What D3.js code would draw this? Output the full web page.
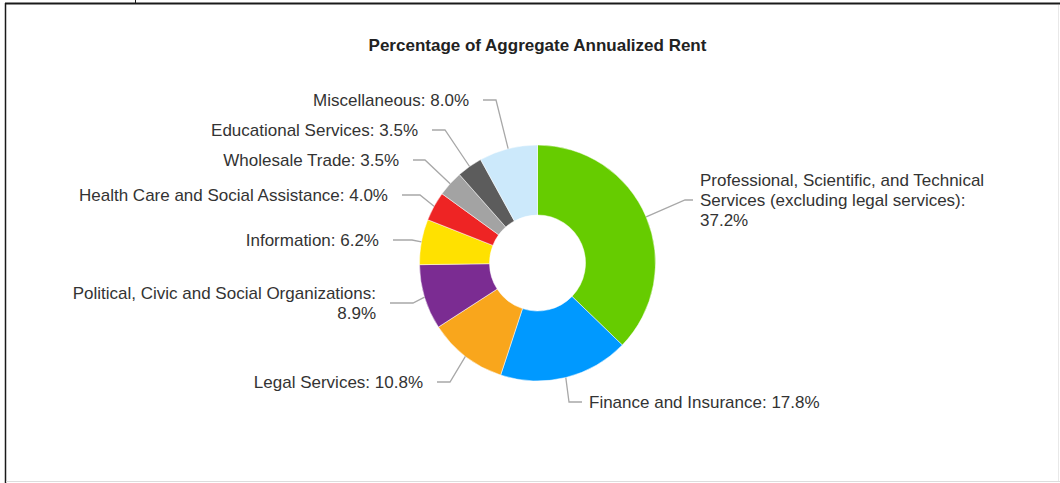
<!DOCTYPE html>
<html>
<head>
<meta charset="utf-8">
<script src="https://cdn.jsdelivr.net/npm/d3@7"></script>
<style>
  html, body { margin: 0; padding: 0; background: #fff; }
  svg { display: block; }
</style>
</head>
<body>
<svg id="chart" width="1060" height="483"></svg>
<script>
// ---- Data ----
const title = "Percentage of Aggregate Annualized Rent";
const categories = [
  "Professional, Scientific, and Technical Services (excluding legal services)",
  "Finance and Insurance",
  "Legal Services",
  "Political, Civic and Social Organizations",
  "Information",
  "Health Care and Social Assistance",
  "Wholesale Trade",
  "Educational Services",
  "Miscellaneous"
];
const values = [37.2, 17.8, 10.8, 8.9, 6.2, 4.0, 3.5, 3.5, 8.0];
const labelLines = [
  ["Professional, Scientific, and Technical", "Services (excluding legal services):", "37.2%"],
  ["Finance and Insurance: 17.8%"],
  ["Legal Services: 10.8%"],
  ["Political, Civic and Social Organizations:", "8.9%"],
  ["Information: 6.2%"],
  ["Health Care and Social Assistance: 4.0%"],
  ["Wholesale Trade: 3.5%"],
  ["Educational Services: 3.5%"],
  ["Miscellaneous: 8.0%"]
];

// ---- Styles / layout ----
const colors = ["#66cc00", "#0099ff", "#f9a61c", "#7b2c92", "#ffe100", "#ee2424", "#a3a3a3", "#5c5c5c", "#cce9fb"];
// label layout: leader y, elbow x, leader end x, side
const labelLayout = [
  {ly: 200, ex: 685, tx: 693, side: "right"},
  {ly: 402, ex: 569, tx: 582, side: "right"},
  {ly: 382, ex: 450, tx: 437, side: "left"},
  {ly: 303, ex: 413, tx: 390, side: "left"},
  {ly: 240, ex: 412, tx: 393, side: "left"},
  {ly: 195, ex: 420, tx: 402, side: "left"},
  {ly: 160, ex: 425, tx: 413, side: "left"},
  {ly: 130, ex: 445, tx: 432, side: "left"},
  {ly: 100, ex: 496, tx: 483, side: "left"}
];
const cx = 537.5, cy = 263, rOuter = 118, rInner = 48;
const fontFamily = "'Liberation Sans', Arial, sans-serif";
const fontSize = 17;

const svg = d3.select("#chart");

// frame
svg.append("line").attr("x1", 5).attr("x2", 1060).attr("y1", 3.5).attr("y2", 3.5)
  .attr("stroke", "#1a1a1a").attr("stroke-width", 2);
svg.append("line").attr("x1", 5.5).attr("x2", 5.5).attr("y1", 3).attr("y2", 483)
  .attr("stroke", "#1a1a1a").attr("stroke-width", 1.5);
svg.append("line").attr("x1", 135.5).attr("x2", 135.5).attr("y1", 0).attr("y2", 3)
  .attr("stroke", "#1a1a1a").attr("stroke-width", 1);
svg.append("line").attr("x1", 6).attr("x2", 1060).attr("y1", 481.5).attr("y2", 481.5)
  .attr("stroke", "#dddddd").attr("stroke-width", 1);
svg.append("line").attr("x1", 1058.5).attr("x2", 1058.5).attr("y1", 5).attr("y2", 481)
  .attr("stroke", "#e8e8e8").attr("stroke-width", 1);

// title
svg.append("text")
  .attr("x", cx).attr("y", 51)
  .attr("text-anchor", "middle")
  .attr("font-family", fontFamily)
  .attr("font-size", fontSize)
  .attr("font-weight", "bold")
  .attr("fill", "#222")
  .text(title);

const pie = d3.pie().sort(null).value(d => d);
const arcs = pie(values);
const arc = d3.arc().innerRadius(rInner).outerRadius(rOuter);

const g = svg.append("g").attr("transform", `translate(${cx},${cy})`);
g.selectAll("path.slice")
  .data(arcs)
  .join("path")
  .attr("class", "slice")
  .attr("d", arc)
  .attr("fill", (d, i) => colors[i])
  .attr("stroke", "#ffffff")
  .attr("stroke-width", 0.5);

// leader lines + labels
arcs.forEach((a, i) => {
  const mid = (a.startAngle + a.endAngle) / 2;
  const sx = cx + rOuter * Math.sin(mid);
  const sy = cy - rOuter * Math.cos(mid);
  const L = labelLayout[i];
  svg.append("path")
    .attr("d", d3.line()([[sx, sy], [L.ex, L.ly], [L.tx, L.ly]]))
    .attr("fill", "none")
    .attr("stroke", "#a8a8a8")
    .attr("stroke-width", 1.3);

  const lines = labelLines[i];
  const lh = 20;
  const right = L.side === "right";
  const textX = right ? L.tx + 7 : L.tx - 14;
  const firstBaseline = L.ly + 6 - (lines.length - 1) * lh / 2;
  const t = svg.append("text")
    .attr("font-family", fontFamily)
    .attr("font-size", fontSize)
    .attr("fill", "#333")
    .attr("text-anchor", right ? "start" : "end");
  lines.forEach((ln, j) => {
    t.append("tspan").attr("x", textX).attr("y", firstBaseline + j * lh).text(ln);
  });
});
</script>
</body>
</html>
